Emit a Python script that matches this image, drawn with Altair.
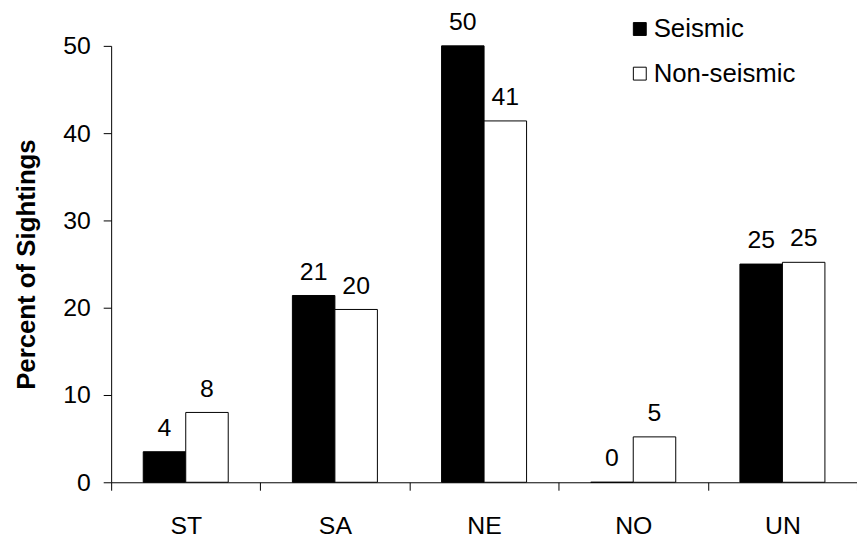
import altair as alt
import pandas as pd

categories = ["ST", "SA", "NE", "NO", "UN"]
series = ["Seismic", "Non-seismic"]
seismic = [3.5, 21.4, 50.0, 0.0, 25.0]
non_seismic = [8.0, 19.8, 41.4, 5.2, 25.2]
y_ticks = [0, 10, 20, 30, 40, 50]
colors = ["black", "white"]

rows = []
for i, c in enumerate(categories):
    rows.append({"cat": c, "series": series[0], "value": seismic[i]})
    rows.append({"cat": c, "series": series[1], "value": non_seismic[i]})
df = pd.DataFrame(rows)

FONT = "Liberation Sans"

x = alt.X(
    "cat:N",
    sort=categories,
    scale=alt.Scale(paddingInner=0, paddingOuter=0),
    axis=alt.Axis(
        title=None,
        tickBand="extent",
        labelAngle=0,
        labelFontSize=25,
        labelFont=FONT,
        labelColor="black",
        labelPadding=24,
        tickSize=8,
        tickColor="black",
        domainColor="black",
    ),
)
xoff = alt.XOffset(
    "series:N",
    sort=series,
    scale=alt.Scale(paddingInner=0, paddingOuter=0.755),
)
y = alt.Y(
    "value:Q",
    scale=alt.Scale(domain=[0, 50], nice=False, zero=True),
    axis=alt.Axis(
        values=y_ticks,
        title="Percent of Sightings",
        titleFont=FONT,
        titleFontSize=26,
        titleFontWeight="bold",
        titleColor="black",
        titlePadding=23,
        grid=False,
        labelFontSize=25,
        labelFont=FONT,
        labelColor="black",
        labelPadding=13,
        tickSize=8,
        tickColor="black",
        domainColor="black",
    ),
)

bars = alt.Chart(df).mark_bar(stroke="black", strokeWidth=1).encode(
    x=x,
    xOffset=xoff,
    y=y,
    color=alt.Color(
        "series:N",
        sort=series,
        scale=alt.Scale(domain=series, range=colors),
        legend=alt.Legend(
            title=None,
            orient="none",
            legendX=520,
            legendY=-30,
            direction="vertical",
            symbolType="square",
            symbolSize=169,
            symbolStrokeColor="black",
            symbolStrokeWidth=1,
            labelFont=FONT,
            labelFontSize=26,
            labelColor="black",
            labelOffset=1,
            rowPadding=19,
            padding=0,
        ),
    ),
)

labels = alt.Chart(df).mark_text(
    baseline="alphabetic", dy=-16, fontSize=25, font=FONT, color="black"
).encode(
    x=x,
    xOffset=xoff,
    y=y,
    text=alt.Text("value:Q", format=".0f"),
)

chart = (
    alt.layer(bars, labels)
    .properties(
        width=752,
        height=440,
        autosize=alt.AutoSizeParams(type="none"),
        padding={"left": 104, "top": 36, "right": 0, "bottom": 54},
        background="white",
    )
    .configure_view(stroke=None)
)

chart.save("out.html", embed_options={"renderer": "svg", "actions": False})
